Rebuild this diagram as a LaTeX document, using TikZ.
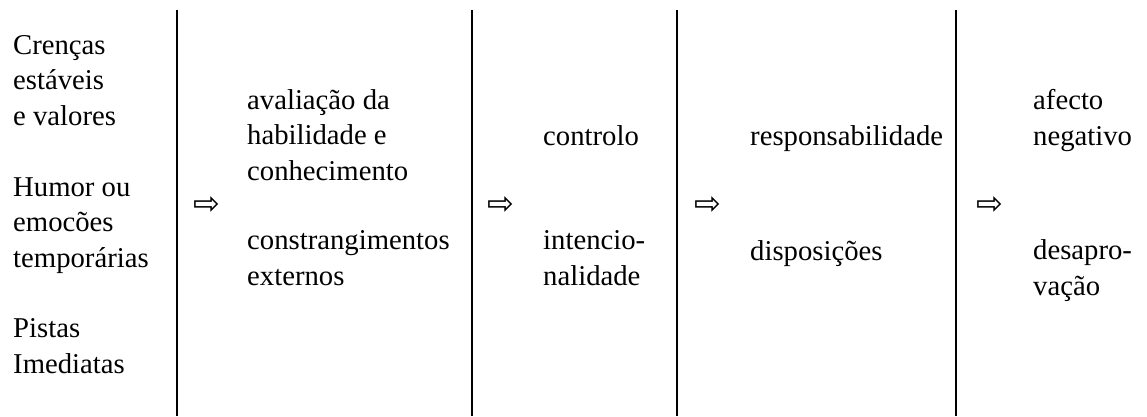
\documentclass[tikz,border=0pt]{standalone}
\usepackage{fontspec}
\setmainfont{Liberation Serif}
\newfontfamily\arrowfont{DejaVu Sans}
\usepackage{tikz}

\begin{document}
\begin{tikzpicture}[x=1pt,y=-1pt]
    \tikzstyle{words} = [anchor=base west,align=left,inner sep=0pt,font=\fontsize{28.7}{35.3}\selectfont]
    \tikzstyle{pointer} = [anchor=west,inner sep=0pt,font=\arrowfont\fontsize{32}{32}\selectfont]
    \tikzstyle{rule} = [line width=1.2pt]
    \useasboundingbox (0,0) rectangle (1147,416);
    % separators
    \draw [rule] (177,10) -- (177,416);
    \draw [rule] (472,10) -- (472,416);
    \draw [rule] (677,10) -- (677,416);
    \draw [rule] (956,10) -- (956,416);
    % sources (base = last line)
    \node (beliefs)[words] at (13,125) {Crenças\\estáveis\\e valores};
    \node (mood)[words] at (13,267) {Humor ou\\emocões\\temporárias};
    \node (cues)[words] at (13,373) {Pistas\\Imediatas};
    % appraisal
    \node (stepA)[pointer] at (193,206) {⇨};
    \node (ability)[words] at (247,180) {avaliação da\\habilidade e\\conhecimento};
    \node (limits)[words] at (247,285) {constrangimentos\\externos};
    % control
    \node (stepB)[pointer] at (487,206) {⇨};
    \node (control)[words] at (543,145) {controlo};
    \node (intent)[words] at (543,285) {intencio-\\nalidade};
    % judgement
    \node (stepC)[pointer] at (694,206) {⇨};
    \node (blame)[words] at (750,145) {responsabilidade};
    \node (traits)[words] at (750,260) {disposições};
    % reaction
    \node (stepD)[pointer] at (976,206) {⇨};
    \node (affect)[words] at (1033,145) {afecto\\negativo};
    \node (reject)[words] at (1033,295) {desapro-\\vação};
\end{tikzpicture}
\end{document}
